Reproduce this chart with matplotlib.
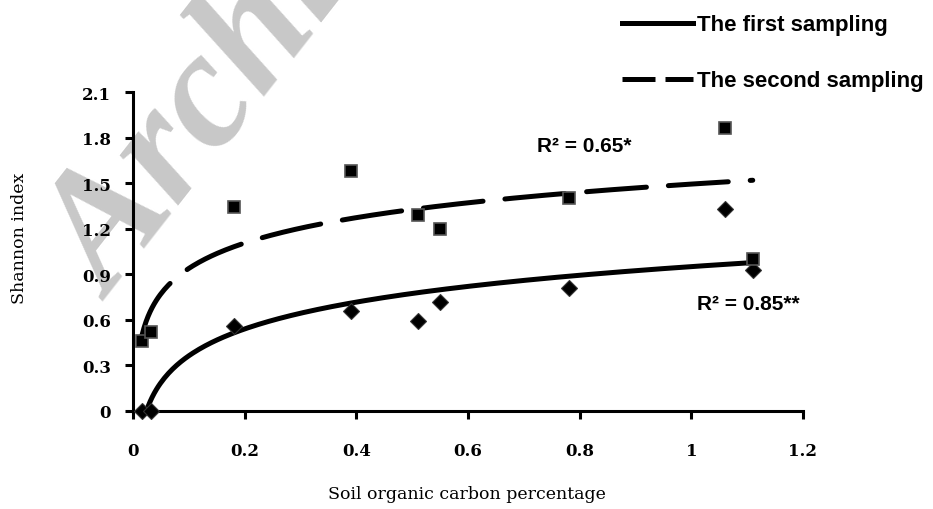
import numpy as np
import matplotlib
matplotlib.use("Agg")
import matplotlib.pyplot as plt
from matplotlib.lines import Line2D

# soil organic carbon (%) and Shannon index
soc = [0.016, 0.032, 0.18, 0.39, 0.51, 0.55, 0.78, 1.06, 1.11]
first_sampling = [0.0, 0.0, 0.56, 0.66, 0.59, 0.72, 0.81, 1.33, 0.93]
second_sampling = [0.46, 0.52, 1.34, 1.58, 1.29, 1.20, 1.40, 1.86, 1.00]

x_ticks = [0, 0.2, 0.4, 0.6, 0.8, 1.0, 1.2]
x_tick_labels = ["0", "0.2", "0.4", "0.6", "0.8", "1", "1.2"]
y_ticks = [0, 0.3, 0.6, 0.9, 1.2, 1.5, 1.8, 2.1]
y_tick_labels = ["0", "0.3", "0.6", "0.9", "1.2", "1.5", "1.8", "2.1"]

r2_first = "R\u00b2 = 0.85**"
r2_second = "R\u00b2 = 0.65*"
legend_labels = ["The first sampling", "The second sampling"]

W, H = 933, 510
fig = plt.figure(figsize=(W / 100, H / 100), dpi=100)

# watermark, behind everything
fig.text(112 / W, 1 - 302 / H, "Archive", fontsize=120, color="#c8c8c8",
         family="Liberation Serif", weight="bold", style="italic",
         rotation=52, rotation_mode="anchor", ha="left", va="baseline",
         zorder=-5)

ax = fig.add_axes([133 / W, 1 - 412 / H, 670 / W, 319 / H])
ax.set_facecolor("none")

x = np.array(soc)
xs = np.linspace(x.min(), x.max(), 300)

# logarithmic trendlines, as in the original spreadsheet chart
a1, b1 = np.polyfit(np.log(x), first_sampling, 1)
a2, b2 = np.polyfit(np.log(x), second_sampling, 1)
ax.plot(xs, a1 * np.log(xs) + b1, color="black", lw=3.6,
        solid_capstyle="round", zorder=3)
ax.plot(xs, a2 * np.log(xs) + b2, color="black", lw=3.6,
        dashes=(12, 4.4), dash_capstyle="round", zorder=3)

ax.plot(soc, first_sampling, "D", color="black", ms=8, mec="#333333",
        mew=0.8, clip_on=False, zorder=4)
ax.plot(soc, second_sampling, "s", color="black", ms=8.5, mec="#555555",
        mew=1.2, clip_on=False, zorder=4)

ax.set_xlim(0, 1.2)
ax.set_ylim(0, 2.1)
ax.set_xticks(x_ticks)
ax.set_xticklabels(x_tick_labels)
ax.set_yticks(y_ticks)
ax.set_yticklabels(y_tick_labels)
for sp in ["top", "right"]:
    ax.spines[sp].set_visible(False)
for sp in ["left", "bottom"]:
    ax.spines[sp].set_linewidth(2.2)
ax.tick_params(direction="out", length=6, width=2.2, labelsize=12)
ax.tick_params(axis="x", pad=16)
ax.tick_params(axis="y", pad=10)
for lab in ax.get_xticklabels() + ax.get_yticklabels():
    lab.set_family("DejaVu Serif")
    lab.set_weight("bold")

fig.text(467 / W, 1 - 495 / H, "Soil organic carbon percentage",
         family="DejaVu Serif", fontsize=12.5, ha="center", va="center")
fig.text(20 / W, 1 - 238 / H, "Shannon index", family="DejaVu Serif",
         fontsize=12.5, rotation=90, ha="center", va="center")

# R² annotations
fig.text(537 / W, 1 - 147 / H, r2_second, family="Liberation Sans",
         weight="bold", fontsize=15, ha="left", va="center")
fig.text(697 / W, 1 - 305 / H, r2_first, family="Liberation Sans",
         weight="bold", fontsize=15, ha="left", va="center")

# legend drawn by hand, top right outside the axes
fig.add_artist(Line2D([622 / W, 693 / W], [1 - 24 / H, 1 - 24 / H],
                      color="black", lw=3.6))
fig.add_artist(Line2D([622 / W, 693 / W], [1 - 80 / H, 1 - 80 / H],
                      color="black", lw=3.6, dashes=(6.6, 2.0)))
fig.text(697 / W, 1 - 26 / H, legend_labels[0], family="Liberation Sans",
         weight="bold", fontsize=16, ha="left", va="center")
fig.text(697 / W, 1 - 81 / H, legend_labels[1], family="Liberation Sans",
         weight="bold", fontsize=16, ha="left", va="center")

fig.savefig("out.png", dpi=100)
